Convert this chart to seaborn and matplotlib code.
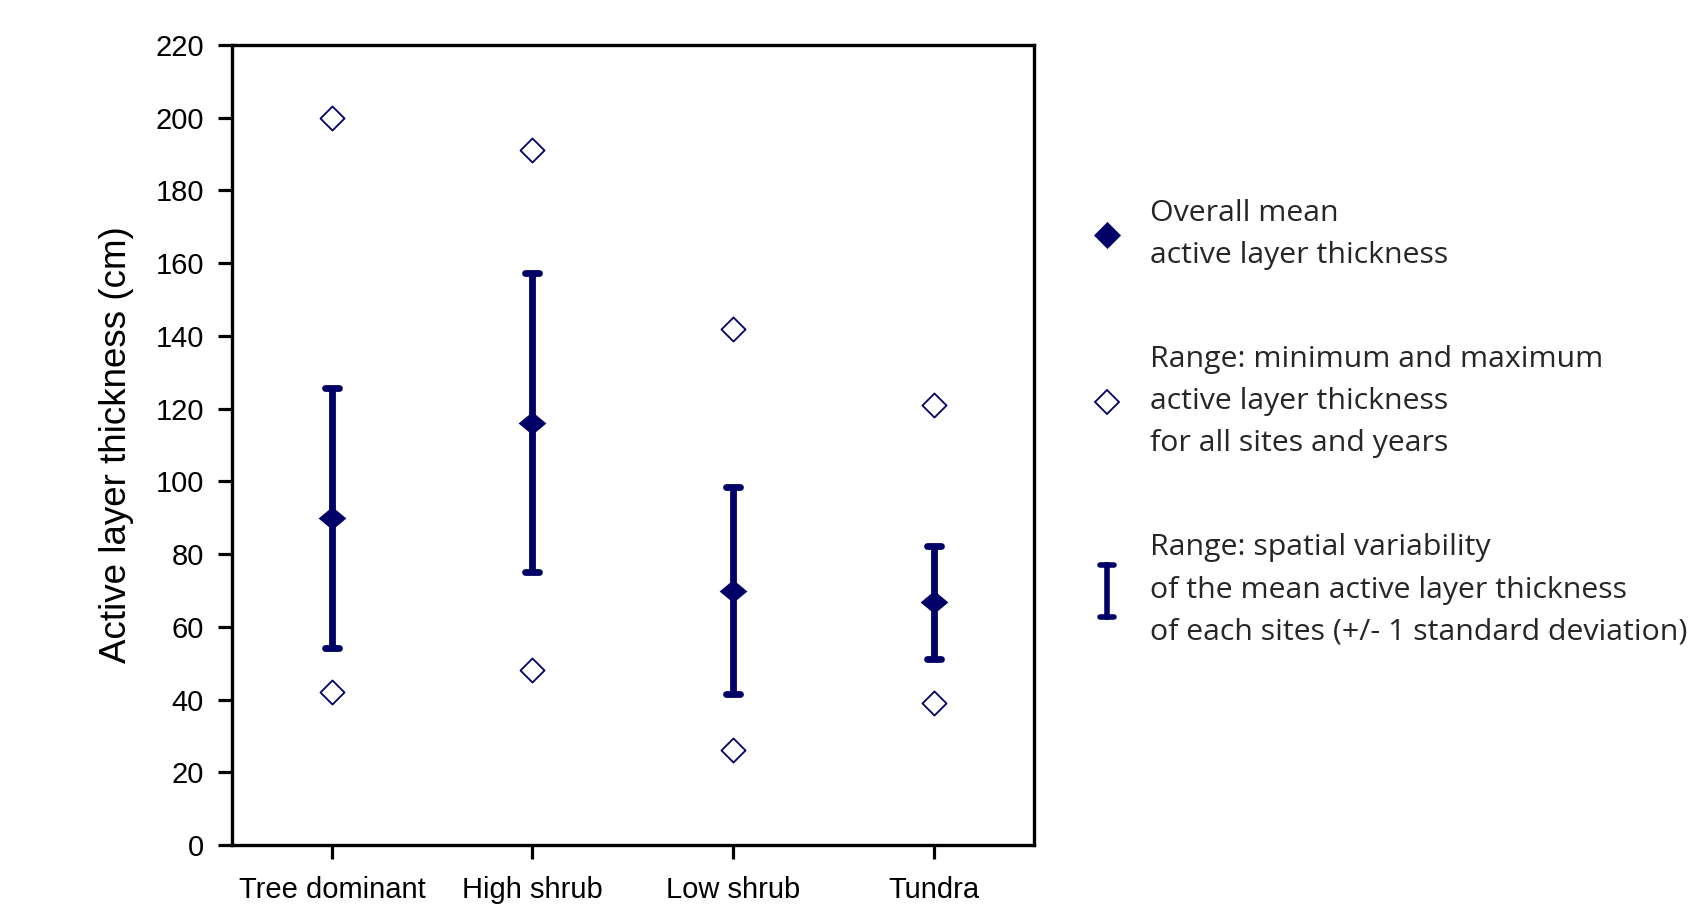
import numpy as np
import pandas as pd
import matplotlib
matplotlib.use("Agg")
import matplotlib.pyplot as plt
from matplotlib.lines import Line2D
from matplotlib.markers import MarkerStyle
from matplotlib.path import Path
import seaborn as sns

# ---------------- data ----------------
categories = ["Tree dominant", "High shrub", "Low shrub", "Tundra"]
mean_alt = [89.9, 116.1, 69.9, 66.7]          # overall mean active layer thickness
sd_alt = [35.7, 41.1, 28.5, 15.5]             # +/- 1 standard deviation
min_alt = [42, 48, 26, 39]                    # minimum for all sites and years
max_alt = [200, 191, 142, 121]                # maximum for all sites and years
yticks = list(range(0, 221, 20))

legend_labels = [
    "Overall mean\nactive layer thickness",
    "Range: minimum and maximum\nactive layer thickness\nfor all sites and years",
    "Range: spatial variability\nof the mean active layer thickness\nof each sites (+/- 1 standard deviation)",
]

# ---------------- style ----------------
sns.set_theme(style="ticks")
plt.rcParams["font.family"] = ["Liberation Sans", "DejaVu Sans"]
navy = "#000066"

fig = plt.figure(figsize=(17.07, 9.15), dpi=100)
ax = fig.add_axes([0.1357, 0.0765, 0.4700, 0.8743])

df_mean = pd.DataFrame({"type": categories, "alt": mean_alt})
df_range = pd.DataFrame({"type": categories * 2, "alt": min_alt + max_alt})

# error bars (+/- 1 SD)
eb = ax.errorbar(categories, mean_alt, yerr=sd_alt, fmt="none", ecolor=navy,
                 elinewidth=4.9, capsize=5, capthick=4.9, zorder=2)
for cl in eb[1]:
    cl.set_marker(MarkerStyle("_", capstyle="round"))
    cl.set_markersize(10)

# min / max open diamonds
sns.scatterplot(data=df_range, x="type", y="alt", marker="D", s=150,
                color=navy, linewidth=1.3, zorder=3, ax=ax)
ax.collections[-1].set_facecolor("white")
ax.collections[-1].set_edgecolor(navy)

# filled mean diamonds (slightly flattened)
flat_diamond = [(-1, 0), (0, 0.83), (1, 0), (0, -0.83), (-1, 0)]
sns.scatterplot(data=df_mean, x="type", y="alt", marker=flat_diamond, s=400,
                color=navy, linewidth=0, zorder=4, ax=ax)

# ---------------- axes ----------------
ax.set_xlim(-0.5, 3.5)
ax.set_ylim(0, 220)
ax.set_yticks(yticks)
ax.set_xlabel("")
ax.set_ylabel("Active layer thickness (cm)", fontsize=26.5, labelpad=15.5, color="black")
for sp in ax.spines.values():
    sp.set_visible(True)
    sp.set_linewidth(2.4)
    sp.set_color("black")
ax.tick_params(axis="both", direction="out", length=10, width=2.3, color="black",
               labelsize=21, labelcolor="black")
ax.tick_params(axis="y", pad=10)
ax.tick_params(axis="x", pad=12)
ax.grid(False)

# ---------------- legend ----------------
sq_diamond = [(-1, 0), (0, 1), (1, 0), (0, -1), (-1, 0)]
h1 = Line2D([], [], linestyle="none", marker=sq_diamond, markersize=19.5,
            color=navy, markeredgewidth=0)
h2 = Line2D([], [], linestyle="none", marker="D", markersize=12.2,
            markerfacecolor="white", markeredgecolor=navy, markeredgewidth=1.3)
ibeam = Path([(-0.13, -0.5), (0.13, -0.5), (0, -0.5), (0, 0.5), (-0.13, 0.5), (0.13, 0.5)],
             [Path.MOVETO, Path.LINETO, Path.MOVETO, Path.LINETO, Path.MOVETO, Path.LINETO])
h3 = Line2D([], [], linestyle="none", marker=MarkerStyle(ibeam, capstyle="round"),
            markersize=38, markerfacecolor="none", markeredgecolor=navy,
            markeredgewidth=4.0)

leg = ax.legend(handles=[h1, h2, h3], labels=legend_labels, loc="center left",
                bbox_to_anchor=(1091.6 / 1707, 0.538), bbox_transform=fig.transFigure,
                frameon=False, borderpad=0, borderaxespad=0, handlelength=1.0,
                handletextpad=0.92, labelspacing=2.48,
                prop={"family": ["Open Sans", "DejaVu Sans"], "size": 21.8},
                labelcolor="#262626")
for t in leg.get_texts():
    t.set_linespacing(1.6)

fig.savefig("out.png", dpi=100)
